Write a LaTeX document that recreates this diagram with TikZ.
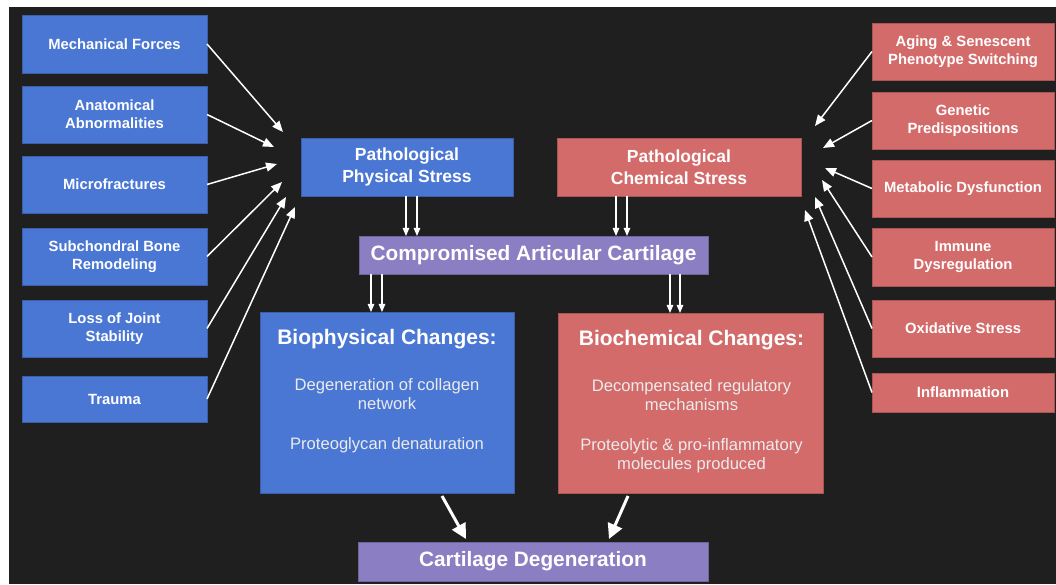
\documentclass[tikz,border=0pt]{standalone}
\usepackage{fontspec}
\setmainfont{Liberation Sans}
\usepackage{tikz}
\usetikzlibrary{arrows.meta,calc,positioning}
\tikzstyle{cause} = [rectangle, draw, line width=0.5pt, text=white, align=center, inner sep=0pt, outer sep=0pt, minimum height=57pt, font=\fontsize{14.8}{18}\selectfont\bfseries]
\tikzstyle{physcause} = [cause, fill=physblue, draw=physblue!80!black, minimum width=185pt]
\tikzstyle{chemcause} = [cause, fill=chemred, draw=chemred!80!black, minimum width=182pt]
\tikzstyle{stress} = [cause, minimum height=58pt, font=\fontsize{17.5}{22}\selectfont\bfseries]
\tikzstyle{cartilage} = [cause, fill=cartpurple, draw=cartpurple!80!black, minimum width=349pt, minimum height=38pt, font=\fontsize{20.8}{24}\selectfont\bfseries]
\tikzstyle{changes} = [rectangle, draw, line width=0.5pt, inner sep=0pt, outer sep=0pt]
\tikzstyle{changeshead} = [text=white, inner sep=0pt, font=\fontsize{21}{25}\selectfont\bfseries]
\tikzstyle{changestext} = [text=white!92!black, inner sep=0pt, align=center, font=\fontsize{16.6}{19.5}\selectfont]
\tikzstyle{thinarrow} = [white, line width=1.5pt, -{Triangle[length=11pt,width=9pt]}]
\tikzstyle{dblarrow} = [white, line width=1.1pt, -{Triangle[length=8pt,width=6.5pt]}]
\tikzstyle{bigarrow} = [white, line width=3pt, -{Triangle[length=15pt,width=15pt]}]
\definecolor{physblue}{HTML}{4A77D4}
\definecolor{chemred}{HTML}{D46B6B}
\definecolor{cartpurple}{HTML}{8B7EC2}
\definecolor{bgdark}{HTML}{1F1F1F}

\begin{document}
\begin{tikzpicture}[x=1pt,y=1pt]
      \useasboundingbox (0,0) rectangle (1056,584);
      \fill[white] (0,0) rectangle (1056,584);
      \fill[bgdark] (9,0) rectangle (1056,577);
      %
      \node[physcause, minimum height=58pt] (MechForces) at (114.5,540) {Mechanical Forces};
      \node[physcause, below=13pt of MechForces] (AnatAbnorm) {Anatomical\\Abnormalities};
      \node[physcause, below=13pt of AnatAbnorm] (Microfractures) {Microfractures};
      \node[physcause, below=15pt of Microfractures] (SubchBone) {Subchondral Bone\\Remodeling};
      \node[physcause, below=15pt of SubchBone] (JointStab) {Loss of Joint\\Stability};
      \node[physcause, below=19pt of JointStab, minimum height=46pt] (Trauma) {Trauma};
      %
      \node[chemcause] (Aging) at (963,532.5) {Aging \& Senescent\\Phenotype Switching};
      \node[chemcause, below=12pt of Aging] (Genetic) {Genetic\\Predispositions};
      \node[chemcause, below=11pt of Genetic] (Metabolic) {Metabolic Dysfunction};
      \node[chemcause, below=11pt of Metabolic, minimum height=58pt] (Immune) {Immune\\Dysregulation};
      \node[chemcause, below=14pt of Immune] (Oxidative) {Oxidative Stress};
      \node[chemcause, below=16pt of Oxidative, minimum height=39pt] (Inflammation) {Inflammation};
      %
      \node[stress, fill=physblue, draw=physblue!80!black, minimum width=212pt] (PhysStress) at (407,417) {Pathological\\Physical Stress};
      \node[stress, fill=chemred, draw=chemred!80!black, minimum width=244pt] (ChemStress) at (679,417) {Pathological\\Chemical Stress};
      \node[cartilage] (CompCartilage) at (533.5,329) {Compromised Articular Cartilage};
      \node[changes, fill=physblue, draw=physblue!80!black, minimum width=254pt, minimum height=181pt] (BiophysChanges) at (387,181.5) {};
      \node[changes, fill=chemred, draw=chemred!80!black, minimum width=265pt, minimum height=180pt] (BiochemChanges) at (690.5,181) {};
      \node[cartilage, minimum width=350pt, minimum height=39pt] (CartDegeneration) at (533,22.5) {Cartilage Degeneration};
      %
      \node[changeshead, anchor=base] (BiophysHead) at ($(BiophysChanges.north)+(0,-32.5)$) {Biophysical Changes:};
      \node[changestext, anchor=north] (BiophysText) at ($(BiophysChanges.north)+(0,-66)$) {Degeneration of collagen\\network\\[20pt]Proteoglycan denaturation};
      \node[changeshead, anchor=base] (BiochemHead) at ($(BiochemChanges.north)+(1,-32.5)$) {Biochemical Changes:};
      \node[changestext, anchor=north] (BiochemText) at ($(BiochemChanges.north)+(1,-66)$) {Decompensated regulatory\\mechanisms\\[20pt]Proteolytic \& pro-inflammatory\\molecules produced};
      %
      \foreach \src/\dx/\dy in {MechForces/-18/35, AnatAbnorm/-27/20, Microfractures/-24/3, SubchBone/-19/-15, JointStab/-15/-30, Trauma/-6/-40}
      {
        \coordinate (Tip\src) at ($(PhysStress.west)+(\dx,\dy)$);
        \draw[thinarrow] (\src.east) -- (Tip\src);
      }
      \foreach \src/\dx/\dy in {Aging/14/41, Genetic/22/19, Metabolic/24/-1, Immune/21/-13, Oxidative/14/-30, Inflammation/4/-43}
      {
        \coordinate (Tip\src) at ($(ChemStress.east)+(\dx,\dy)$);
        \draw[thinarrow] (\src.west) -- (Tip\src);
      }
      %
      \foreach \dx in {-1,10}
        \draw[dblarrow] ($(PhysStress.south)+(\dx,0)$) -- ($(PhysStress.south |- CompCartilage.north)+(\dx,0)$);
      \foreach \dx in {-63,-52}
        \draw[dblarrow] ($(ChemStress.south)+(\dx,0)$) -- ($(ChemStress.south |- CompCartilage.north)+(\dx,0)$);
      \foreach \dx in {-162.5,-151.5}
        \draw[dblarrow] ($(CompCartilage.south)+(\dx,0)$) -- ($(CompCartilage.south |- BiophysChanges.north)+(\dx,0)$);
      \foreach \dx in {136.5,146.5}
        \draw[dblarrow] ($(CompCartilage.south)+(\dx,0)$) -- ($(CompCartilage.south |- BiochemChanges.north)+(\dx,0)$);
      %
      \draw[bigarrow] ($(BiophysChanges.south)+(55,-3)$) -- ($(CartDegeneration.north)+(-67,3)$);
      \draw[bigarrow] ($(BiochemChanges.south)+(-62.5,-3)$) -- ($(CartDegeneration.north)+(76,3)$);
    \end{tikzpicture}
\end{document}
